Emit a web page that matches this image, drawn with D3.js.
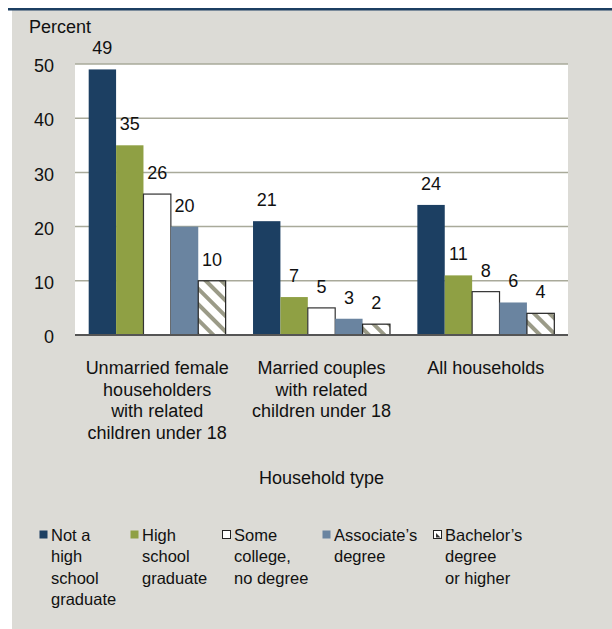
<!DOCTYPE html>
<meta charset="utf-8">
<style>
    body { margin: 0; background: #fff; }
    svg { display: block; font-family: "Liberation Sans", Arial, sans-serif; }
    .grid line { stroke: #a9aa9a; stroke-width: 1.5; }
    .label { font-size: 18px; fill: #111; }
    .legend text { font-size: 16.5px; fill: #111; }
</style>
<svg width="612" height="629"></svg>
<script src="https://d3js.org/d3.v7.min.js"></script>
<script>

    var groups = ["Unmarried female householders with related children under 18",
                  "Married couples with related children under 18",
                  "All households"];
    var groupLines = [["Unmarried female", "householders", "with related", "children under 18"],
                      ["Married couples", "with related", "children under 18"],
                      ["All households"]];
    var series = ["Not a high school graduate", "High school graduate",
                  "Some college, no degree", "Associate’s degree", "Bachelor’s degree or higher"];
    var legendLines = [["Not a", "high", "school", "graduate"],
                       ["High", "school", "graduate"],
                       ["Some", "college,", "no degree"],
                       ["Associate’s", "degree"],
                       ["Bachelor’s", "degree", "or higher"]];

    var notHighSchool = [49, 21, 24];
    var highSchoolGrad = [35, 7, 11];
    var someCollege = [26, 5, 8];
    var associates = [20, 3, 6];
    var bachelors = [10, 2, 4];
    var seriesValues = [notHighSchool, highSchoolGrad, someCollege, associates, bachelors];

    var yTicks = [0, 10, 20, 30, 40, 50];

    var fills = ["#1c3f62", "#8fa044", "#ffffff", "#6a84a0", "url(#hatch)"];
    var strokes = ["none", "none", "#333", "none", "#222"];

    var svg = d3.select("svg");

    // hatch pattern for bachelor's bars
    var defs = svg.append("defs");
    var pat = defs.append("pattern")
        .attr("id", "hatch")
        .attr("patternUnits", "userSpaceOnUse")
        .attr("width", 11).attr("height", 11)
        .attr("patternTransform", "rotate(-45)");
    pat.append("rect").attr("width", 11).attr("height", 11).attr("fill", "#fff");
    pat.append("rect").attr("width", 4).attr("height", 11).attr("fill", "#9b9b88");

    // background panel
    svg.append("rect").attr("x", 12).attr("y", 10).attr("width", 600).attr("height", 619).attr("fill", "#dcdbd6");
    svg.append("rect").attr("x", 8).attr("y", 8).attr("width", 604).attr("height", 2.5).attr("fill", "#1c3f62");

    var plotLeft = 75, plotRight = 568, plotTop = 64, plotBottom = 335;

    var x0 = d3.scaleBand().domain(groups).range([plotLeft, plotRight]);
    var x1 = d3.scaleBand().domain(series).range([0, x0.bandwidth()]).paddingOuter(0.5);
    var y = d3.scaleLinear().domain([0, 50]).range([plotBottom, plotTop]);

    svg.append("rect").attr("x", plotLeft).attr("y", plotTop)
        .attr("width", plotRight - plotLeft).attr("height", plotBottom - plotTop).attr("fill", "#fff");

    svg.append("g").attr("class", "grid")
        .selectAll("line").data(yTicks.filter(function(d) { return d > 0; }))
        .enter().append("line")
        .attr("x1", plotLeft).attr("x2", plotRight)
        .attr("y1", function(d) { return y(d); })
        .attr("y2", function(d) { return y(d); });

    svg.append("g").selectAll("text").data(yTicks)
        .enter().append("text")
        .attr("class", "label")
        .attr("x", 54)
        .attr("y", function(d) { return y(d); })
        .attr("dy", "0.45em")
        .attr("text-anchor", "end")
        .text(function(d) { return d; });

    svg.append("text").attr("class", "label").attr("x", 29).attr("y", 33).text("Percent");

    var bars = svg.append("g");
    series.forEach(function(s, i) {
        var g = bars.append("g");
        g.selectAll("rect").data(seriesValues[i])
            .enter().append("rect")
            .attr("x", function(d, j) { return x0(groups[j]) + x1(s); })
            .attr("y", function(d) { return y(d); })
            .attr("width", x1.bandwidth())
            .attr("height", function(d) { return y(0) - y(d); })
            .attr("fill", fills[i])
            .attr("stroke", strokes[i])
            .attr("stroke-width", 1.2);
        g.selectAll("text").data(seriesValues[i])
            .enter().append("text")
            .attr("class", "label")
            .attr("x", function(d, j) { return x0(groups[j]) + x1(s) + x1.bandwidth() / 2; })
            .attr("y", function(d) { return y(d) - 15; })
            .attr("text-anchor", "middle")
            .text(function(d) { return d; });
    });

    svg.append("line").attr("x1", plotLeft).attr("x2", plotRight).attr("y1", y(0)).attr("y2", y(0))
        .attr("stroke", "#555").attr("stroke-width", 2);

    // category labels
    groups.forEach(function(gname, j) {
        var t = svg.append("text").attr("class", "label").attr("text-anchor", "middle");
        groupLines[j].forEach(function(line, k) {
            t.append("tspan")
                .attr("x", x0(gname) + x0.bandwidth() / 2)
                .attr("y", 374 + k * 21.7)
                .text(line);
        });
    });

    svg.append("text").attr("class", "label").attr("text-anchor", "middle")
        .attr("x", (plotLeft + plotRight) / 2).attr("y", 484).text("Household type");

    // legend
    var legendX = [39, 130, 222, 322, 433];
    var legend = svg.append("g").attr("class", "legend");
    series.forEach(function(s, i) {
        legend.append("rect")
            .attr("x", legendX[i] + 0.5).attr("y", 530.5)
            .attr("width", 8).attr("height", 8)
            .attr("fill", i === 4 ? "#fff" : fills[i])
            .attr("stroke", i === 2 || i === 4 ? "#222" : "none")
            .attr("stroke-width", 1);
        if (i === 4) {
            legend.append("path")
                .attr("d", "M" + (legendX[i] + 3) + ",533 L" + (legendX[i] + 3) + ",537.5 L" + (legendX[i] + 7.5) + ",537.5 Z")
                .attr("fill", "#333");
        }
        var t = legend.append("text");
        legendLines[i].forEach(function(line, k) {
            t.append("tspan")
                .attr("x", legendX[i] + 12)
                .attr("y", 541 + k * 21.3)
                .text(line);
        });
    });
</script>
